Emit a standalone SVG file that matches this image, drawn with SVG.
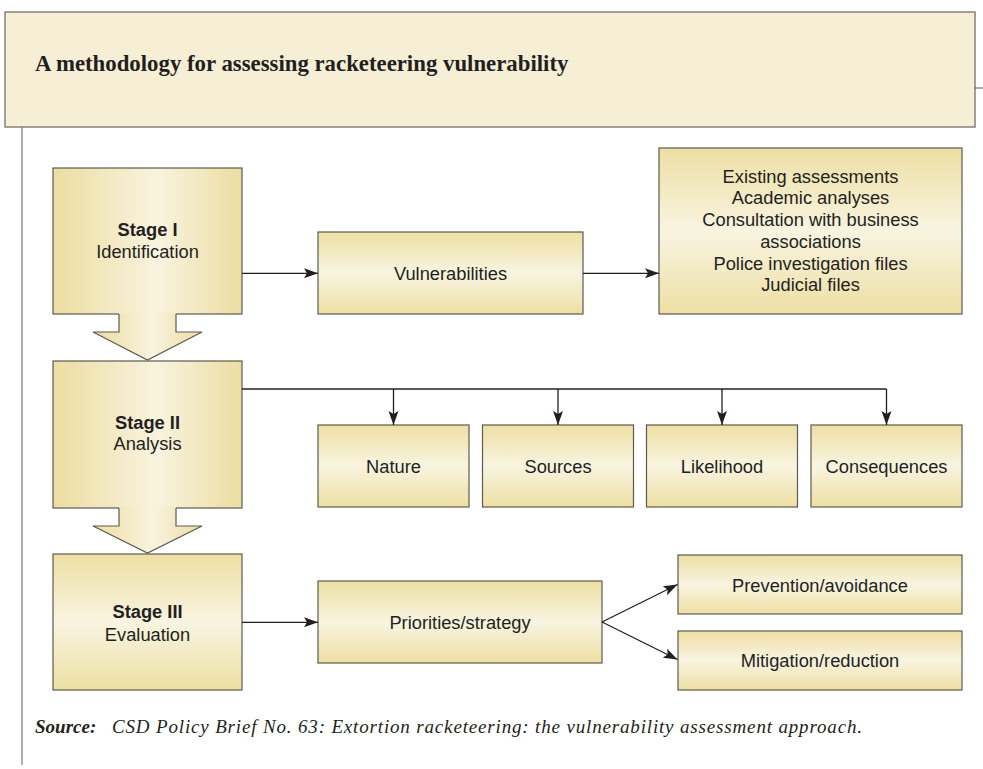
<svg xmlns="http://www.w3.org/2000/svg" width="983" height="769" viewBox="0 0 983 769">
<defs>
<linearGradient id="hg" x1="0" y1="0" x2="1" y2="0">
<stop offset="0" stop-color="#eddda2"/>
<stop offset="0.55" stop-color="#f8f3de"/>
<stop offset="1" stop-color="#eddda2"/>
</linearGradient>
<linearGradient id="vg" x1="0" y1="0" x2="0" y2="1">
<stop offset="0" stop-color="#eedfa4"/>
<stop offset="0.5" stop-color="#f8f4e0"/>
<stop offset="1" stop-color="#eedfa4"/>
</linearGradient>
<marker id="ah" markerUnits="userSpaceOnUse" markerWidth="15" markerHeight="11" refX="14" refY="5" orient="auto">
<path d="M0,0 L14,5 L0,10 L3,5 Z" fill="#231f20"/>
</marker>
<style>
.box{stroke:#5c5a50;stroke-width:1.2}
.st{fill:url(#hg)}
.vb{fill:url(#vg)}
.t{font-family:"Liberation Sans",Arial,sans-serif;font-size:18.3px;fill:#231f20;text-anchor:middle}
.b{font-weight:bold}
.c{fill:none;stroke:#231f20;stroke-width:1.3}
</style>
</defs>

<g id="header">
<rect x="5" y="12" width="970" height="115" fill="#f6efd6" stroke="#858278" stroke-width="1.5"/>
<text x="35" y="71" font-family="'Liberation Serif','Times New Roman',serif" font-weight="bold" font-size="22.8" fill="#231f20">A methodology for assessing racketeering vulnerability</text>
</g>
<line x1="975" y1="88" x2="983" y2="88" stroke="#555" stroke-width="1"/>
<line x1="22" y1="127" x2="22" y2="765" stroke="#7a7a7a" stroke-width="1.2"/>

<g id="stage1">
<rect class="box st" x="53" y="168" width="189" height="146"/>
<text class="t b" x="147.5" y="236">Stage I</text>
<text class="t" x="147.5" y="257.5">Identification</text>
</g>
<g id="arrow12">
<polygon points="119,313 176,313 176,332 202,332 147.5,360 93,332 119,332" class="st"/>
<polyline points="119,314 119,332 93,332 147.5,360 202,332 176,332 176,314" fill="none" stroke="#5c5a50" stroke-width="1.2"/>
</g>
<g id="stage2">
<rect class="box st" x="53" y="361" width="189" height="147"/>
<text class="t b" x="147.5" y="429">Stage II</text>
<text class="t" x="147.5" y="450">Analysis</text>
</g>
<g id="arrow23">
<polygon points="119,507 176,507 176,526 202,526 147.5,553 93,526 119,526" class="st"/>
<polyline points="119,508 119,526 93,526 147.5,553 202,526 176,526 176,508" fill="none" stroke="#5c5a50" stroke-width="1.2"/>
</g>
<g id="stage3">
<rect class="box vb" x="53" y="554" width="189" height="136"/>
<text class="t b" x="147.5" y="618">Stage III</text>
<text class="t" x="147.5" y="640.5">Evaluation</text>
</g>

<g id="vulnerabilities">
<rect class="box vb" x="318" y="232" width="265" height="82"/>
<text class="t" x="450.5" y="280">Vulnerabilities</text>
</g>
<g id="sourcesinfo">
<rect class="box vb" x="659" y="148" width="303" height="166"/>
<text class="t" x="810.5" y="182.7">Existing assessments</text>
<text class="t" x="810.5" y="204.4">Academic analyses</text>
<text class="t" x="810.5" y="226.1">Consultation with business</text>
<text class="t" x="810.5" y="247.8">associations</text>
<text class="t" x="810.5" y="269.5">Police investigation files</text>
<text class="t" x="810.5" y="291.2">Judicial files</text>
</g>

<g id="nature">
<rect class="box vb" x="318" y="425" width="151" height="82"/>
<text class="t" x="393.5" y="473">Nature</text>
</g>
<g id="sources">
<rect class="box vb" x="482.5" y="425" width="151" height="82"/>
<text class="t" x="558" y="473">Sources</text>
</g>
<g id="likelihood">
<rect class="box vb" x="646.5" y="425" width="151" height="82"/>
<text class="t" x="722" y="473">Likelihood</text>
</g>
<g id="consequences">
<rect class="box vb" x="811" y="425" width="151" height="82"/>
<text class="t" x="886.5" y="473">Consequences</text>
</g>

<g id="priorities">
<rect class="box vb" x="318" y="581" width="284" height="82"/>
<text class="t" x="460" y="629">Priorities/strategy</text>
</g>
<g id="prevention">
<rect class="box vb" x="678" y="555" width="284" height="59"/>
<text class="t" x="820" y="591.5">Prevention/avoidance</text>
</g>
<g id="mitigation">
<rect class="box vb" x="678" y="631" width="284" height="59"/>
<text class="t" x="820" y="667">Mitigation/reduction</text>
</g>

<g id="connectors">
<line class="c" x1="242" y1="273.3" x2="318" y2="273.3" marker-end="url(#ah)"/>
<line class="c" x1="583" y1="273.3" x2="659" y2="273.3" marker-end="url(#ah)"/>
<polyline class="c" points="242,389 886.5,389"/>
<line class="c" x1="393.5" y1="389" x2="393.5" y2="425" marker-end="url(#ah)"/>
<line class="c" x1="558" y1="389" x2="558" y2="425" marker-end="url(#ah)"/>
<line class="c" x1="722" y1="389" x2="722" y2="425" marker-end="url(#ah)"/>
<line class="c" x1="886.5" y1="389" x2="886.5" y2="425" marker-end="url(#ah)"/>
<line class="c" x1="242" y1="622.3" x2="318" y2="622.3" marker-end="url(#ah)"/>
<line class="c" x1="602" y1="622" x2="677.5" y2="584.5" marker-end="url(#ah)"/>
<line class="c" x1="602" y1="622" x2="677.5" y2="659.5" marker-end="url(#ah)"/>
</g>

<g id="source-note" font-family="'Liberation Serif','Times New Roman',serif" font-style="italic" font-size="19" fill="#231f20">
<text x="35" y="733" font-weight="bold">Source:</text>
<text x="112" y="733" textLength="750" lengthAdjust="spacing">CSD Policy Brief No. 63: Extortion racketeering: the vulnerability assessment approach.</text>
</g>
</svg>
